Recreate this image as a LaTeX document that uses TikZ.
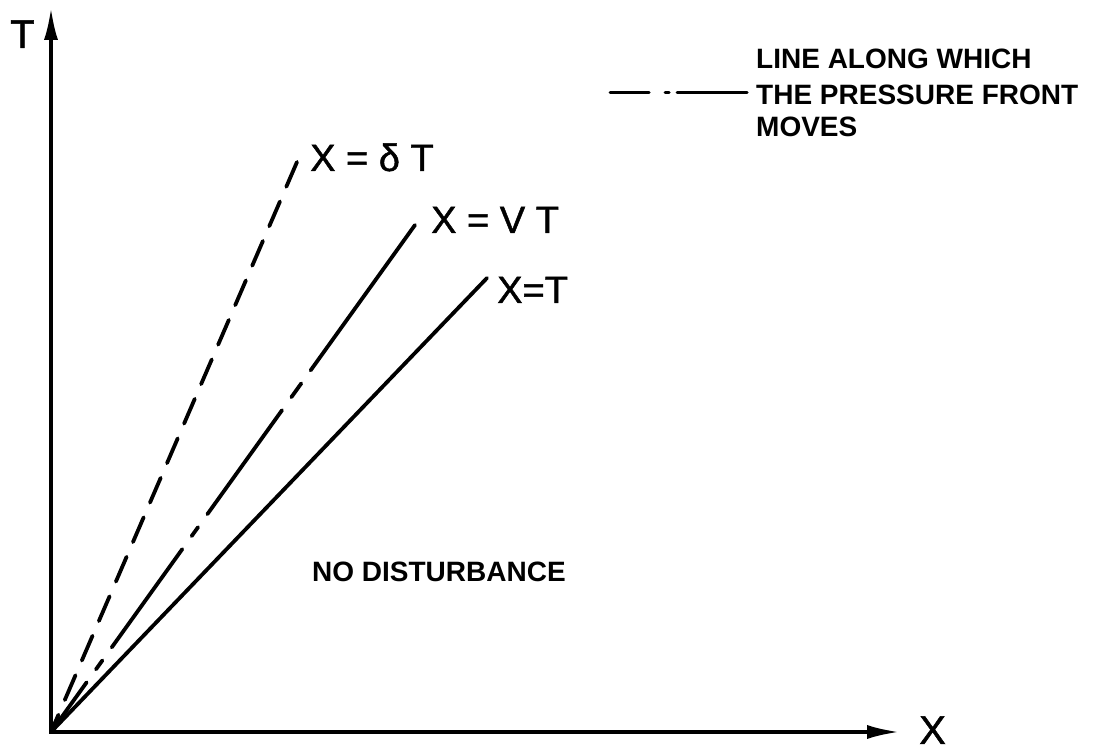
\documentclass[tikz,border=0pt]{standalone}
\usepackage{fontspec}
\setmainfont{Liberation Sans}
\newfontfamily\penfont[FakeBold=1.2]{Liberation Sans}
\usetikzlibrary{arrows.meta}
\begin{document}
\begin{tikzpicture}[x=1pt,y=1pt,
  axis/.style={line width=3.8pt, line join=miter,
    {Latex[length=33pt,width=14pt]}-{Latex[length=33pt,width=14pt]}},
  ray/.style={line width=3.8pt, line cap=round},
  biglabel/.style={inner sep=0pt, anchor=base west, font=\penfont\fontsize{38}{40}\selectfont},
  smalllabel/.style={inner sep=0pt, anchor=base west, font=\bfseries\fontsize{28}{34}\selectfont},
  axlabel/.style={inner sep=0pt, anchor=base west, font=\penfont\fontsize{40}{42}\selectfont},
]
\path[use as bounding box, fill=white] (0,0) rectangle (1097,751);

% axes
\coordinate (O) at (51,19);
\coordinate (Ttip) at (51,744);
\coordinate (Xtip) at (900,19);
\draw[axis] (Ttip) -- (O) -- (Xtip);
\node[axlabel] (Tlab) at (10,703) {T};
\node[axlabel] (Xlab) at (919,7) {X};

% rays
\coordinate (dT) at (297,589);
\coordinate (VT) at (415,526);
\coordinate (XT) at (487,473);
\draw[ray, dash pattern=on 27pt off 16pt] (dT) -- (O);
\draw[ray, dash pattern=on 179pt off 16pt on 17pt off 16pt on 128pt off 16pt on 11pt off 16pt on 121pt off 16pt on 11pt off 16pt on 200pt off 0pt] (VT) -- (O);
\draw[ray] (XT) -- (O);

% ray labels
\node[biglabel] (dTlab) at (310,580) {X = δ T};
\node[biglabel] (VTlab) at (431,518) {X = V T};
\node[biglabel] (XTlab) at (497,448) {X=T};

% region label
\node[smalllabel] (nd) at (312,169) {NO DISTURBANCE};

% legend
\coordinate (L1) at (610,658);
\coordinate (L2) at (747,658);
\draw[line width=3pt, line cap=round, dash pattern=on 39pt off 16pt on 4pt off 8pt on 67pt off 0pt] (L1) -- (L2);
\node[smalllabel] (leg1) at (756,682) {LINE ALONG WHICH};
\node[smalllabel] (leg2) at (756,646) {THE PRESSURE FRONT};
\node[smalllabel] (leg3) at (756,614) {MOVES};
\end{tikzpicture}
\end{document}
